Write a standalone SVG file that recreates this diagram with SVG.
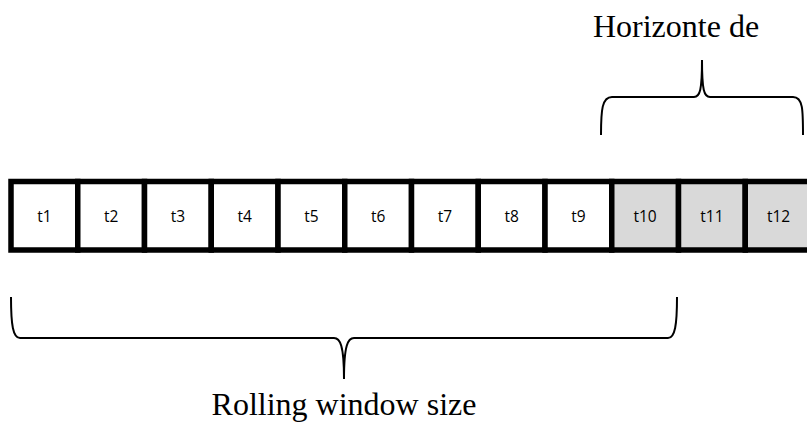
<svg xmlns="http://www.w3.org/2000/svg" width="807" height="423" viewBox="0 0 807 423">
<style>
.cell{stroke:#000;stroke-width:5.5}
.w{fill:#fff}
.g{fill:#d9d9d9}
.lbl{font-family:"Open Sans","Liberation Sans",sans-serif;font-size:15.5px;text-anchor:middle;fill:#000}
.cap{font-family:"Liberation Serif","Times New Roman",serif;font-size:32px;fill:#000;text-anchor:middle}
.brace{fill:none;stroke:#000;stroke-width:2}
</style>
<rect width="807" height="423" fill="#fff"/>
<g id="cells">
<g id="t1"><rect class="cell w" x="11" y="181.5" width="66.75" height="68.5"/><text class="lbl" x="44.4" y="221.5">t1</text></g>
<g id="t2"><rect class="cell w" x="77.75" y="181.5" width="66.75" height="68.5"/><text class="lbl" x="111.1" y="221.5">t2</text></g>
<g id="t3"><rect class="cell w" x="144.5" y="181.5" width="66.75" height="68.5"/><text class="lbl" x="177.9" y="221.5">t3</text></g>
<g id="t4"><rect class="cell w" x="211.25" y="181.5" width="66.75" height="68.5"/><text class="lbl" x="244.6" y="221.5">t4</text></g>
<g id="t5"><rect class="cell w" x="278" y="181.5" width="66.75" height="68.5"/><text class="lbl" x="311.4" y="221.5">t5</text></g>
<g id="t6"><rect class="cell w" x="344.75" y="181.5" width="66.75" height="68.5"/><text class="lbl" x="378.1" y="221.5">t6</text></g>
<g id="t7"><rect class="cell w" x="411.5" y="181.5" width="66.75" height="68.5"/><text class="lbl" x="444.9" y="221.5">t7</text></g>
<g id="t8"><rect class="cell w" x="478.25" y="181.5" width="66.75" height="68.5"/><text class="lbl" x="511.6" y="221.5">t8</text></g>
<g id="t9"><rect class="cell w" x="545" y="181.5" width="66.75" height="68.5"/><text class="lbl" x="578.4" y="221.5">t9</text></g>
<g id="t10"><rect class="cell g" x="611.75" y="181.5" width="66.75" height="68.5"/><text class="lbl" x="645.1" y="221.5">t10</text></g>
<g id="t11"><rect class="cell g" x="678.5" y="181.5" width="66.75" height="68.5"/><text class="lbl" x="711.9" y="221.5">t11</text></g>
<g id="t12"><rect class="cell g" x="745.25" y="181.5" width="66.75" height="68.5"/><text class="lbl" x="778.6" y="221.5">t12</text></g>
</g>
<g id="connectors">
<path class="brace" d="M601,135 C601,110 602,97 612,97 L694,97 C700,97 702,90 702,60 C702,90 704,97 710,97 L793,97 C803,97 803,110 803,135"/>
<path class="brace" d="M11,297 C11,325 13,338 20,338 L334,338 C340,338 344,345 344,379 C344,345 348,338 354,338 L668,338 C675,338 677,325 677,297"/>
</g>
<g id="labels">
<text class="cap" x="676" y="37">Horizonte de</text>
<text class="cap" x="344" y="415">Rolling window size</text>
</g>
</svg>
